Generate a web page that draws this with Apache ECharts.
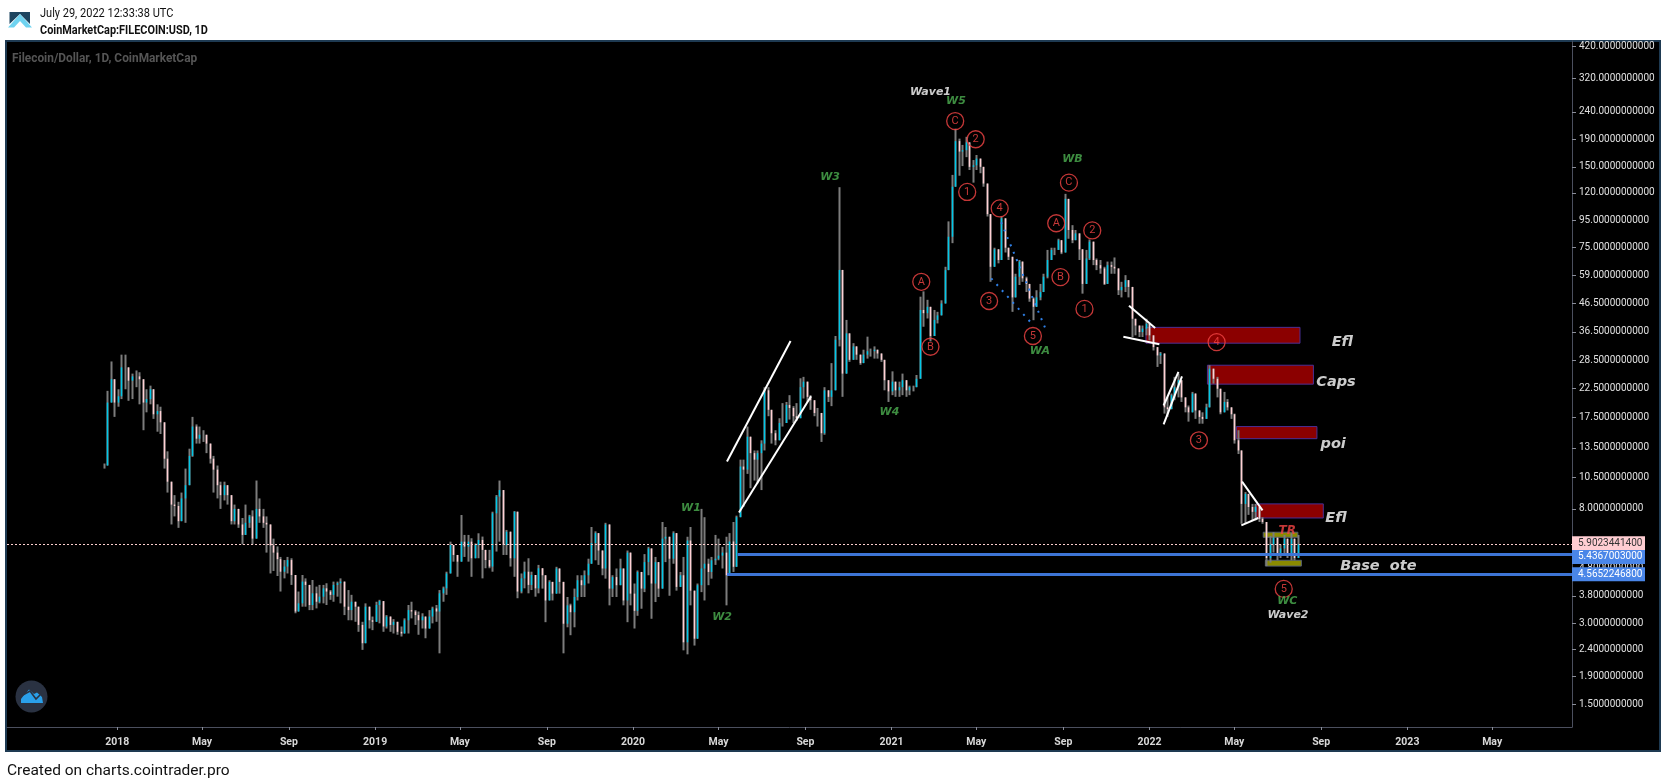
<!DOCTYPE html>
<html><head><meta charset="utf-8">
<style>html,body{margin:0;padding:0;background:#fff}#c{width:1666px;height:783px}</style>
<script src="https://cdn.jsdelivr.net/npm/echarts@6/dist/echarts.min.js"></script>
</head><body><div id="c"></div>
<script>
// Candles are 5-day summaries
const firstDate = '2017-12-14', stepDays = 5;
const closes = [
11.6,19.9,24.3,19.9,21,26.9,26.9,24,24.9,24.9,24.3,19.9,20.5,22.3,18,18.5,16.8,12.3,10.1,8.3,8.2,7.2,8.75,9.8,12.6,16.2,14.6,15.1,15.1,14,12.3,11.2,9.8,9,9.8,9,7.2,8,7,6.4,7.1,7.5,6.2,8,7.5,7.1,7,5.85,5.5,5.2,
4.67,4.88,5.16,4.54,3.32,3.56,4.29,4.17,3.51,3.88,3.61,3.77,4.05,3.94,3.83,4.17,4.23,4.29,3.46,3.36,3.61,3.46,2.96,2.53,3.46,3.08,3.04,3.51,3.63,2.92,3.18,2.96,3.04,2.79,2.75,3.08,3.36,3.32,3.22,3.08,3.18,2.87,3.18,3.41,3.32,3.88,4.05,4.6,5.87,5.39,5.09,6.04,5.79,6.04,5.24,5.87,6.13,5.63,5.16,4.88,7.7,8.89,9.4,5.87,6.58,5.24,7.81,3.94,4.41,4.67,4.17,4.54,4.05,4.81,
4.53,3.65,4.28,3.87,4.8,4.28,2.99,3.5,3.3,3.76,4.34,4.16,4.53,5.0,5.97,6.5,5.6,4.8,7.0,4.04,4.46,4.16,4.8,3.65,5.5,3.87,3.34,4.66,4.04,5.07,5.7,4.22,5.07,4.04,6.2,6.3,5.22,6.5,4.1,4.53,2.55,6.1,3.97,2.63,4.16,4.8,5.0,4.66,5.15,5.22,5.36,5.5,4.53,6.05,4.87,7.45,
11.5,11.2,14.85,12.9,12.2,12.9,14,22.1,18.7,15.3,14.4,16.7,16.7,19.5,19,17.7,17.4,22.7,23.8,20.9,20.3,18.2,18.2,15.3,22.1,20.9,22.1,34.1,62,25.5,36,28.7,32.2,30,27.9,30,30.9,30.9,31.3,30.3,28.7,24.1,21.9,23.8,22.1,22.7,24.1,22.1,22.7,22.7,24.4,44,42.8,45.2,35.2,40.4,42,
46.5,61.9,82.4,126.5,187,171,173,185,150,152,161,150,130,100,63.7,74,67.5,96.5,75,69.4,49,58.5,66.6,57.7,55,48.5,45.2,49,51.3,58.5,67.5,73.6,73.6,80,72,114,87.3,80,84.8,74,55,68.4,79,67.5,64.6,62.8,55,64.6,63.7,62.8,52.1,53.6,56.8,53.6,
40.8,38.5,36.4,37.5,39.1,35.4,32,29.8,30.3,19.1,18.8,21.2,22.7,24.1,20.8,19.1,18.3,21.5,18.6,17.6,17.3,19.1,26.6,24.4,22.4,18.3,20,19.1,18,14.4,13.2,8.35,9.1,8.13,7.8,8.13,7.35,7.15,
5.25,5.9,6.25,5.45,5.7,6.2,5.45,6.2,5.25,5.9023
];
const highs = [
11.8,22,28.3,24,22.3,30,30,26.2,25.5,26.2,25.8,22.7,22.3,23,21.4,19.6,19.2,14.4,13.1,10.1,9,8.5,9.2,11.3,13.4,17.6,16.5,16.2,15.7,14.6,14,12.6,11.6,10.1,10.1,9.5,8.75,8.3,7.9,7.4,8.3,7.6,7.9,10.2,8.75,8,7.5,6.8,6.2,5.8,
5.3,5.16,5.3,5.24,4.29,3.94,4.54,4.41,3.72,4.35,4.11,4.17,4.17,4.23,3.99,4.29,4.29,4.41,3.99,3.99,3.83,3.56,3.22,3.04,3.56,3.32,3.18,3.61,3.67,3.22,3.22,3.08,3.11,2.96,2.92,3.13,3.51,3.61,3.36,3.32,3.27,3.13,3.36,3.46,3.51,3.99,4.11,4.67,6.04,5.79,5.3,7.59,6.4,6.4,6.22,5.95,6.49,6.31,5.55,5.63,7.81,9.01,10.2,6.68,6.68,6.31,7.85,6.97,4.6,5.09,5.24,4.67,4.54,4.95,
4.8,4.53,4.34,4.22,4.87,4.4,3.92,3.76,3.55,4.04,4.53,4.53,4.72,5.22,6.85,6.6,6.3,5.5,7.1,4.8,4.53,4.8,5.22,4.8,5.6,4.28,4.22,4.72,4.66,5.43,5.78,5.7,5.3,5.0,7.15,6.85,6.3,6.6,5.07,4.66,5.3,6.3,6.85,3.92,4.22,8.0,7.45,5.22,5.3,6.4,6.2,5.78,6.3,6.5,7.15,7.55,
12.2,12.2,16.2,13.1,13.2,13.2,14.4,22.7,22.7,17.7,15.7,17.4,19.8,20,21.2,19.3,19.8,24.5,24.8,23.4,21.2,19.3,19,17,22.7,22.1,27.9,35.2,126,41.5,40.4,31.6,33.1,30.9,29.5,31.3,35,31.6,32.2,31.3,30,28.2,23.8,26,22.7,23.8,25.5,23,23,23,25.2,49.3,51.6,48,39.7,44,43.3,
47.8,63.7,94,140,208,191,181,194,168,159,166,159,148,123,95,75,72,98,87.3,73.6,67.5,60,67.5,63.7,58.5,53.6,49,52.1,55,60,73.6,75,75,81,78,119,114,91,87.3,82.4,65.6,73.6,80.5,72,68.4,67.5,63.7,66.6,66.6,69,61.9,56,59.3,56,
44.4,40.8,37.9,38.5,40.8,36.9,34.9,31.1,30.7,26.6,20.8,21.5,24.8,25.5,21.8,20.5,19.4,21.8,19.4,18.6,18.3,19.7,27.4,26.6,24.8,21.2,21.8,20.5,19.1,18.1,15.7,12.8,9.24,8.6,8.35,8.35,8.13,7.45,
6.95,6.35,6.55,5.75,5.9,6.4,6.2,6.5,6.2,6.4
];
const lows = [
11.3,16.5,23,17.6,19.2,20.5,22.3,20.2,20.5,22.7,19.6,15.7,18.3,19.6,17.3,15.5,15.2,11.3,9.2,7,7.5,6.8,7.5,7.1,9.8,12.5,14,14,14.2,12.9,11.8,9.2,8.75,8,8.6,8.3,7,7,6.8,5.9,6.4,6.8,5.9,6.2,7.1,6.8,5.5,4.6,4.7,4.5,
3.94,4.41,4.6,4.17,3.27,3.32,3.46,3.46,3.36,3.36,3.41,3.56,3.56,3.51,3.67,3.61,3.77,3.56,3.22,3.08,3.08,3.04,2.79,2.39,2.87,2.87,2.83,3.08,3.0,2.79,2.87,2.79,2.75,2.72,2.68,2.75,2.75,3.13,2.96,2.72,2.87,2.64,2.87,3.0,3.04,2.32,3.61,3.83,5.24,5.09,4.47,5.24,5.3,5.09,4.47,5.39,5.24,4.41,4.81,4.81,4.67,5.55,6.04,5.39,5.39,4.88,4.47,3.72,3.88,4.05,3.88,3.99,3.77,3.88,
4.04,3.03,3.65,3.65,3.97,3.87,2.32,2.9,2.71,2.9,3.65,3.76,3.76,4.22,5.0,5.15,4.95,4.53,4.4,3.5,3.76,3.76,4.4,3.5,3.03,3.5,2.87,3.2,3.4,3.92,4.53,3.12,3.6,3.76,4.87,5.07,3.8,5.0,3.97,4.16,2.38,2.3,3.5,2.48,3.2,3.92,3.65,4.16,4.4,4.95,5.15,4.8,3.5,4.8,4.66,4.95,
8.9,8.15,10.8,9.55,10.2,9.95,9.4,13.2,17.7,14,13.8,14.6,16.2,16.7,17.2,16.7,17,19.8,20.6,20,18.7,17.7,16.2,14.2,15.1,20,19.3,26.3,32.2,20.9,28.7,28.2,28.7,28.7,27.5,29,29,29.5,29,29,28.2,22.1,20,21.2,20.9,20.9,21.2,20.9,21.2,21.9,23.4,24.4,38.1,40.9,33.6,37.1,39.2,
43.3,47.8,74.2,78,126.5,139,151,163,146,131,146,142,126.5,98,56,63.7,65.6,73.6,72,67.5,43.3,50.6,54.5,56,51.3,47.2,40.3,47.8,47.8,52.1,57.7,67.5,70.4,73.6,71,72,81,78,80,67.5,50.6,58.5,67.5,64.6,61.9,60,54.5,60,60,60,50,49,51.3,49,
34.9,35.4,34.9,34.9,35.4,33.9,31.1,27,27.7,18.1,17.6,18.8,20.3,20.8,20,18.3,16.9,19.7,17.3,16.6,16.6,18.1,19.1,23.4,20.8,18,18.6,18.6,17.3,14,12.8,7.04,7.04,7.6,7.25,7.25,7.15,7.04,
4.9,5.05,5.5,5.15,5.25,5.35,5.25,5.15,5.15,5.25
];

// Axis ticks
const priceTicks = [420,320,240,190,150,120,95,75,59,46.5,36.5,28.5,22.5,17.5,13.5,10.5,8,4.8,3.8,3,2.4,1.9,1.5];
const timeTicks = ['2018-01-01','2018-05-01','2018-09-01','2019-01-01','2019-05-01','2019-09-01','2020-01-01','2020-05-01','2020-09-01','2021-01-01','2021-05-01','2021-09-01','2022-01-01','2022-05-01','2022-09-01','2023-01-01','2023-05-01'];
const timeTickLabels = ['2018','May','Sep','2019','May','Sep','2020','May','Sep','2021','May','Sep','2022','May','Sep','2023','May'];

// Drawn zones: [from, to, top price, bottom price]
const redZones = [
 ['2021-12-27','2022-08-02',37.9,33.1],
 ['2022-03-24','2022-08-21',27.4,23.3],
 ['2022-05-04','2022-08-26',16.2,14.6],
 ['2022-06-01','2022-09-04',8.35,7.4]
];
const oliveZones = [
 ['2022-06-11','2022-07-30',6.55,6.27],
 ['2022-06-14','2022-08-04',5.15,4.9]
];
// Trend lines: [from, price, to, price]
const whiteLines = [
 ['2020-05-13',12,'2020-08-11',33.7],
 ['2020-05-30',7.75,'2020-09-09',21],
 ['2021-12-03',45.6,'2022-01-09',37.7],
 ['2021-11-25',35,'2022-01-15',32.8],
 ['2022-01-21',19.4,'2022-02-11',25.9],
 ['2022-01-21',16.5,'2022-02-16',24.9],
 ['2022-05-12',10.1,'2022-06-10',7.9],
 ['2022-05-11',6.95,'2022-06-04',7.4]
];
const dottedLines = [
 ['2021-06-05',93.3,'2021-08-06',37.9],
 ['2021-05-22',57.7,'2021-07-19',39]
];
// Price levels: [from, price, label]
const lastPrice = ['2017-07-29',5.9023441400,'5.9023441400'];
const baseLevels = [
 ['2020-05-28',5.4367003,'5.4367003000'],
 ['2020-05-13',4.56522468,'4.5652246800']
];
// Wave counts: [date, price, text]
const circleLabels = [
 ['2021-04-01',222,'C'],['2021-04-30',190,'2'],['2021-04-18',121,'1'],['2021-06-03',105,'4'],['2021-05-19',47.5,'3'],
 ['2021-02-12',56,'A'],['2021-02-25',32.1,'B'],['2021-07-20',35.2,'5'],['2021-08-22',92.5,'A'],['2021-08-28',58.3,'B'],
 ['2021-09-09',131,'C'],['2021-10-12',87,'2'],['2021-10-01',44.4,'1'],['2022-04-06',33.4,'4'],['2022-03-12',14.4,'3'],
 ['2022-07-10',4.03,'5']
];
const greenLabels = [
 ['2021-04-02',267,'W5'],['2021-09-14',163,'WB'],['2021-07-30',31.4,'WA'],['2020-10-06',140,'W3'],['2020-12-29',18.6,'W4'],
 ['2020-03-23',8.2,'W1'],['2020-05-06',3.22,'W2'],['2022-07-15',3.7,'WC']
];
const waveLabels = [['2021-02-25',290,'Wave1'],['2022-07-16',3.27,'Wave2']];
const zoneLabels = [
 ['2022-10-01',34.3,'Efl'],['2022-09-22',24.3,'Caps'],['2022-09-18',14.3,'poi'],['2022-09-22',7.55,'Efl'],['2022-11-21',5.0,'Base  ote']
];
const trLabel = [['2022-07-15',6.75,'TR']];
const xMin = '2017-07-29', xMax = '2023-08-22';

const DAY = 86400000;
const T = d => Date.parse(d + 'T00:00:00Z');
const t0 = T(firstDate);
const times = closes.map((_, i) => t0 + i * stepDays * DAY);
const opens = closes.map((c, i) => i === 0 ? c : closes[i - 1]);
const wickData = closes.map((c, i) => [times[i], opens[i], c, Math.min(lows[i], opens[i], c), Math.max(highs[i], opens[i], c)]);
const bodyData = closes.map((c, i) => [times[i], opens[i], c, Math.min(opens[i], c), Math.max(opens[i], c)]);
const UP = '#00c8e8', DOWN = '#ffd0d4';
const tickTimes = timeTicks.map(T);
const lineData = (arr) => arr.map(l => [{coord: [T(l[0]), l[1]]}, {coord: [T(l[2]), l[3]]}]);
const zoneData = (arr) => arr.map(z => [{coord: [T(z[0]), z[2]]}, {coord: [T(z[1]), z[3]]}]);
const textSeries = (arr, color, size, extra) => ({
  type: 'scatter', z: 6, symbolSize: 1, silent: true, itemStyle: {color: 'rgba(0,0,0,0)'},
  data: arr.map(a => ({value: [T(a[0]), a[1]], text: a[2]})),
  label: Object.assign({show: true, position: 'inside', color, fontSize: size, fontFamily: 'DejaVu Sans', fontWeight: 'bold', fontStyle: 'italic', offset: [0, 2],
    formatter: p => p.data.text}, extra || {})
});
const levelLine = (l, lineColor, bg, fg, type, width, dy) => [{
  coord: [T(l[0]), l[1]], lineStyle: {color: lineColor, type, width},
  label: {show: true, position: 'end', formatter: l[2], backgroundColor: bg, color: fg, fontSize: 10, fontFamily: 'Roboto', padding: [1, 6, 1, 6], distance: 0, width: 61, height: 12, lineHeight: 12, offset: [0, dy]}
}, {coord: [T(xMax), l[1]]}];

const chart = echarts.init(document.getElementById('c'), null, {renderer: 'canvas', width: 1666, height: 783});
chart.setOption({
  animation: false,
  backgroundColor: '#ffffff',
  textStyle: {fontFamily: 'Roboto'},
  grid: {left: 7, right: 94, top: 41, bottom: 56, containLabel: false},
  xAxis: {
    type: 'value', min: T(xMin), max: T(xMax), splitLine: {show: false}, scale: true,
    axisLine: {lineStyle: {color: '#4b4f5e', width: 1}, onZero: false},
    axisTick: {show: true, length: 3, lineStyle: {color: '#8a8d99'}, customValues: tickTimes},
    axisLabel: {customValues: tickTimes, color: '#d8d8d8', fontSize: 10.5, fontWeight: 'bold', fontFamily: 'Roboto', margin: 10, hideOverlap: false,
      formatter: v => timeTickLabels[tickTimes.indexOf(v)] || ''}
  },
  yAxis: {
    type: 'log', logBase: 10, position: 'right', min: 1.234, max: 441, splitLine: {show: false}, minorTick: {show: false},
    axisLine: {show: true, lineStyle: {color: '#4b4f5e', width: 1}},
    axisTick: {show: true, length: 4, lineStyle: {color: '#8a8d99'}, customValues: priceTicks},
    axisLabel: {customValues: priceTicks, color: '#e0e0e0', fontSize: 10, fontFamily: 'Roboto', margin: 7, hideOverlap: false,
      formatter: v => Number(v).toFixed(10)}
  },
  series: [
    {type: 'line', z: 1, silent: true, data: [], showSymbol: false,
     markArea: {silent: true, itemStyle: {color: '#8b0000', borderColor: '#4a2f95', borderWidth: 1}, data: zoneData(redZones)}},
    {type: 'candlestick', name: 'wicks', z: 2, barWidth: 1, silent: true, data: wickData,
     itemStyle: {color: '#7c7c7c', color0: '#7c7c7c', borderColor: '#7c7c7c', borderColor0: '#7c7c7c', borderWidth: 2}},
    {type: 'candlestick', name: 'bodies', z: 3, barWidth: 1, silent: true, data: bodyData,
     itemStyle: {color: UP, color0: DOWN, borderColor: UP, borderColor0: DOWN, borderWidth: 1.5}},
    {type: 'line', z: 4, silent: true, data: [], showSymbol: false,
     markArea: {silent: true, itemStyle: {color: '#8a8a00', borderColor: '#556070', borderWidth: 1}, data: zoneData(oliveZones)}},
    {type: 'line', z: 5, silent: true, data: [], showSymbol: false,
     markLine: {silent: true, symbol: 'none', animation: false, label: {show: false}, lineStyle: {color: '#ffffff', width: 2, type: 'solid'}, data: lineData(whiteLines)}},
    {type: 'line', z: 5, silent: true, data: [], showSymbol: false,
     markLine: {silent: true, symbol: 'none', animation: false, label: {show: false}, lineStyle: {color: '#2f80e8', width: 2, type: [2, 6]}, data: lineData(dottedLines)}},
    {type: 'line', z: 5, silent: true, data: [], showSymbol: false,
     markLine: {silent: true, symbol: 'none', animation: false, data: [
       levelLine(lastPrice, '#ffd0d0', '#ffcdd2', '#333333', [2, 2], 1, -1),
       levelLine(baseLevels[0], '#3d74d4', '#4a86e8', '#ffffff', 'solid', 3, 3),
       levelLine(baseLevels[1], '#3d74d4', '#4a86e8', '#ffffff', 'solid', 3, 0)
     ]}},
    {type: 'scatter', z: 6, silent: true, symbol: 'circle', symbolSize: 17,
     itemStyle: {color: 'rgba(0,0,0,0)', borderColor: '#f54545', borderWidth: 1.3},
     data: circleLabels.map(a => ({value: [T(a[0]), a[1]], text: a[2]})),
     label: {show: true, position: 'inside', color: '#f54545', fontSize: 11, fontFamily: 'Roboto', formatter: p => p.data.text}},
    textSeries(greenLabels, '#4caf50', 11),
    textSeries(waveLabels, '#ffffff', 11),
    textSeries(zoneLabels, '#ffffff', 14.5, {offset: [0, 3]}),
    textSeries(trLabel, '#f54545', 12)
  ],
  graphic: [
    {type: 'rect', z: -100, silent: true, shape: {x: 6, y: 41, width: 1654, height: 710}, style: {fill: '#000000', stroke: '#1e3a52', lineWidth: 2}},
    {type: 'polygon', silent: true, shape: {points: [[9.5,12],[30,12],[30,24],[20,14],[9.5,24]]}, style: {fill: '#1d4560'}},
    {type: 'polygon', silent: true, shape: {points: [[20,14],[32,27.5],[26,27.5],[20,21],[14,27.5],[8,27.5]]}, style: {fill: '#6fd3f0'}},
    {type: 'text', silent: true, x: 40, y: 8, scaleX: 0.917, style: {text: 'July 29, 2022 12:33:38 UTC', fill: '#111', font: '12px Roboto'}},
    {type: 'text', silent: true, x: 40, y: 25, scaleX: 0.908, style: {text: 'CoinMarketCap:FILECOIN:USD, 1D', fill: '#111', font: 'bold 12px Roboto'}},
    {type: 'text', silent: true, x: 12, y: 52, scaleX: 0.913, style: {text: 'Filecoin/Dollar, 1D, CoinMarketCap', fill: '#555555', font: 'bold 13px Roboto'}},
    {type: 'text', silent: true, x: 7, y: 763, style: {text: 'Created on charts.cointrader.pro', fill: '#111', font: '15.5px Roboto'}},
    {type: 'circle', silent: true, shape: {cx: 31.5, cy: 696.5, r: 16}, style: {fill: '#2a3242'}},
    {type: 'polygon', silent: true, shape: {points: [[21,703],[21,699],[24,695],[29,689.5],[34,694],[37,692.5],[42,697],[43,703]]}, style: {fill: '#2aa0ea'}},
    {type: 'polyline', silent: true, shape: {points: [[21,696],[30,691],[36,699],[40,695]]}, style: {fill: null, stroke: '#2a3242', lineWidth: 1.6}}
  ]
});
</script></body></html>
